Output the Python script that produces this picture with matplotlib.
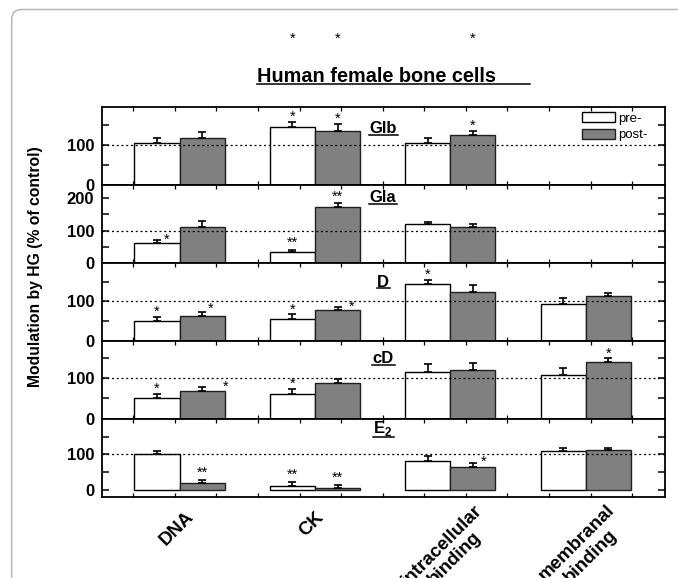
import numpy as np
import matplotlib
matplotlib.use('Agg')
import matplotlib.pyplot as plt
from matplotlib.patches import FancyBboxPatch
from matplotlib.lines import Line2D
from matplotlib.transforms import ScaledTranslation, blended_transform_factory, IdentityTransform

plt.rcParams['font.family'] = ['Liberation Sans', 'DejaVu Sans']
plt.rcParams['mathtext.fontset'] = 'custom'
plt.rcParams['mathtext.rm'] = 'Liberation Sans'
plt.rcParams['mathtext.bf'] = 'Liberation Sans:bold'

# ---------------- data ----------------
categories = ['DNA', 'CK', 'intracellular\nbinding', 'membranal\nbinding']
panel_names = ['Glb', 'Gla', 'D', 'cD', r'$\mathbf{E}_{\mathbf{2}}$']
series_labels = ['pre-', 'post-']

nan = np.nan
glb_pre = [104, 146, 104, nan]
glb_pre_err = [14, 12, 14, nan]
glb_post = [117, 135, 124, nan]
glb_post_err = [15, 17, 11, nan]

gla_pre = [61, 33, 119, nan]
gla_pre_err = [10, 7, 9, nan]
gla_post = [110, 172, 110, nan]
gla_post_err = [20, 12, 9, nan]

d_pre = [51, 55, 144, 94]
d_pre_err = [9, 12, 11, 14]
d_post = [62, 79, 125, 114]
d_post_err = [12, 6, 16, 8]

cd_pre = [51, 60, 116, 109]
cd_pre_err = [10, 14, 20, 17]
cd_post = [69, 87, 120, 140]
cd_post_err = [10, 11, 18, 9]

e2_pre = [100, 12, 83, 109]
e2_pre_err = [10, 11, 12, 9]
e2_post = [20, 7, 66, 113]
e2_post_err = [8, 7, 11, 5]

glb_pre_sig = ['', '*', '', '']
glb_post_sig = ['', '*', '*', '']
gla_pre_sig = ['*', '**', '', '']
gla_post_sig = ['', '**', '', '']
d_pre_sig = ['*', '*', '*', '']
d_post_sig = ['*', '*', '', '']
cd_pre_sig = ['*', '*', '', '']
cd_post_sig = ['*', '', '', '*']
e2_pre_sig = ['', '**', '', '']
e2_post_sig = ['**', '**', '*', '']

panels = [
    (glb_pre, glb_pre_err, glb_post, glb_post_err, glb_pre_sig, glb_post_sig),
    (gla_pre, gla_pre_err, gla_post, gla_post_err, gla_pre_sig, gla_post_sig),
    (d_pre, d_pre_err, d_post, d_post_err, d_pre_sig, d_post_sig),
    (cd_pre, cd_pre_err, cd_post, cd_post_err, cd_pre_sig, cd_post_sig),
    (e2_pre, e2_pre_err, e2_post, e2_post_err, e2_pre_sig, e2_post_sig),
]

# ---------------- style / layout ----------------
W, H, DPI = 678, 578, 100
ylims = [(0, 194), (0, 241), (0, 197), (0, 192), (-20, 200)]
label_y = [0.665, 0.776, 0.696, 0.713, 0.818]
edges_px = [107.3, 185, 263, 341, 418.7, 497.3]
left_px, right_px = 101.7, 665
bw = 0.333
PT = 72.0 / DPI  # points per pixel
# sideways star offsets (px) keyed by (panel, series, category)
side_offsets = {(1, 0, 0): (10, 4), (2, 1, 0): (9, 7), (2, 1, 1): (14, 5),
                (3, 1, 0): (24, 4), (4, 1, 2): (11, 5)}

fig = plt.figure(figsize=(W / DPI, H / DPI), dpi=DPI)

frame = FancyBboxPatch((11.7, -40), 720, H - 9.5 + 40, boxstyle='round,pad=0,rounding_size=10',
                       transform=IdentityTransform(), facecolor='none', edgecolor='#b8b8b8', lw=1.1)
fig.patches.append(frame)

x = np.arange(1, len(categories) + 1)
minor_x = 2.5 + 0.307 * np.arange(-6, 7)
axes = []
for i, (pre, pre_e, post, post_e, pre_s, post_s) in enumerate(panels):
    top, bot = edges_px[i], edges_px[i + 1]
    ax = fig.add_axes([left_px / W, 1 - bot / H, (right_px - left_px) / W, (bot - top) / H])
    axes.append(ax)
    pre = np.array(pre, float); post = np.array(post, float)
    pre_e = np.array(pre_e, float); post_e = np.array(post_e, float)
    m1 = np.isfinite(pre); m2 = np.isfinite(post)
    ax.bar(x[m1] - bw / 2, pre[m1], bw, color='white', edgecolor='black', lw=1.0, zorder=2,
           label=series_labels[0])
    ax.bar(x[m2] + bw / 2, post[m2], bw, color='#808080', edgecolor='#202020', lw=1.0, zorder=2,
           label=series_labels[1])
    ax.errorbar(x[m1] - bw / 2, pre[m1], yerr=[np.zeros(m1.sum()), pre_e[m1]], fmt='none',
                ecolor='black', elinewidth=1.2, capsize=3, capthick=1.2, zorder=3)
    ax.errorbar(x[m2] + bw / 2, post[m2], yerr=[np.zeros(m2.sum()), post_e[m2]], fmt='none',
                ecolor='black', elinewidth=1.2, capsize=3, capthick=1.2, zorder=3)
    ax.axhline(100, color='black', lw=0.9, ls=(0, (1.6, 2.2)), zorder=4)
    for s_idx, (vals, errs, sigs, xs) in enumerate([(pre, pre_e, pre_s, x - bw / 2),
                                                     (post, post_e, post_s, x + bw / 2)]):
        for c in range(len(categories)):
            if sigs[c] and np.isfinite(vals[c]):
                dx, dy = side_offsets.get((i, s_idx, c), (0, 9 if len(sigs[c]) == 1 else 11))
                ax.annotate(sigs[c], xy=(xs[c], vals[c] + errs[c]), xytext=(dx * PT, (dy - 4) * PT),
                            textcoords='offset points', ha='center', va='center', fontsize=10.5,
                            zorder=5)
    ax.set_xlim(0.425, 4.585)
    ax.set_ylim(*ylims[i])
    yt = np.arange(0, ylims[i][1], 50)
    ax.set_yticks(yt, labels=[('%d' % t) if t % 100 == 0 else '' for t in yt])
    ax.tick_params(axis='y', which='both', direction='in', length=5, width=1.1, left=True,
                   right=True, labelsize=12, pad=5.5)
    for lbl in ax.get_yticklabels():
        lbl.set_fontweight('bold')
    ax.set_xticks(minor_x, minor=True)
    ax.tick_params(axis='x', which='minor', direction='in', length=3, width=0.9, top=True,
                   bottom=True)
    if i < len(panels) - 1:
        ax.set_xticks([])
        ax.set_xticks(minor_x, minor=True)
    for sp in ax.spines.values():
        sp.set_linewidth(1.3)
    ax.text(2.5, label_y[i], panel_names[i], transform=blended_transform_factory(ax.transData, ax.transAxes),
            ha='center', va='baseline', fontsize=12, fontweight='bold', zorder=6)

# category labels on bottom axis (rotated, centred under each group)
axb = axes[-1]
axb.set_xticks(x, labels=categories)
axb.tick_params(axis='x', which='major', length=0, pad=8, labelsize=13.5)
for lbl in axb.get_xticklabels():
    multi = '\n' in lbl.get_text()
    lbl.set_rotation(45)
    lbl.set_rotation_mode('default')
    lbl.set_ha('center')
    lbl.set_va('top')
    lbl.set_multialignment('center')
    lbl.set_fontweight('bold')
    lbl.set_linespacing(1.15)
    dxp, dyp = (-2, 7) if multi else (-3, 0)
    lbl.set_transform(lbl.get_transform() + ScaledTranslation(dxp / DPI, dyp / DPI, fig.dpi_scale_trans))

# legend
axes[0].legend(loc='upper left', bbox_to_anchor=(0.852, 0.94), frameon=False, fontsize=9.5,
               handlelength=2.55, handleheight=0.8, handletextpad=0.25, labelspacing=0.32,
               borderpad=0, borderaxespad=0)

# stray asterisks above title (copies of the Glb markers)
ax0 = axes[0]
bt = blended_transform_factory(ax0.transData, fig.transFigure)
for s_idx, (sigs, xs) in enumerate([(glb_pre_sig, x - bw / 2), (glb_post_sig, x + bw / 2)]):
    for c in range(len(categories)):
        if sigs[c]:
            fig.text(xs[c], 1 - 39 / H, sigs[c], transform=bt, ha='center', va='center', fontsize=10.5)

# title
title = fig.text(257 / W, 1 - 81.7 / H, 'Human female bone cells', ha='left', va='baseline',
                 fontsize=14.3, fontweight='bold')
fig.add_artist(Line2D([257 / W, 530 / W], [1 - 84 / H, 1 - 84 / H], color='black', lw=1.1,
                      transform=fig.transFigure))

# y label
fig.text(35.7 / W, 1 - 266.5 / H, 'Modulation by HG (% of control)', rotation=90, ha='center',
         va='center', fontsize=11.3, fontweight='bold')

# underline panel labels
fig.canvas.draw()
r = fig.canvas.get_renderer()
inv = fig.transFigure.inverted()
for ax in axes:
    for t in ax.texts:
        if t.get_text() in panel_names:
            bb = t.get_window_extent(r)
            y = bb.y0 + 1.5
            (fx0, fy), (fx1, _) = inv.transform([(bb.x0, y), (bb.x1 + 1.5, y)])
            fig.add_artist(Line2D([fx0, fx1], [fy, fy], color='black', lw=1.1,
                                  transform=fig.transFigure))

fig.savefig('out.png', dpi=DPI)
